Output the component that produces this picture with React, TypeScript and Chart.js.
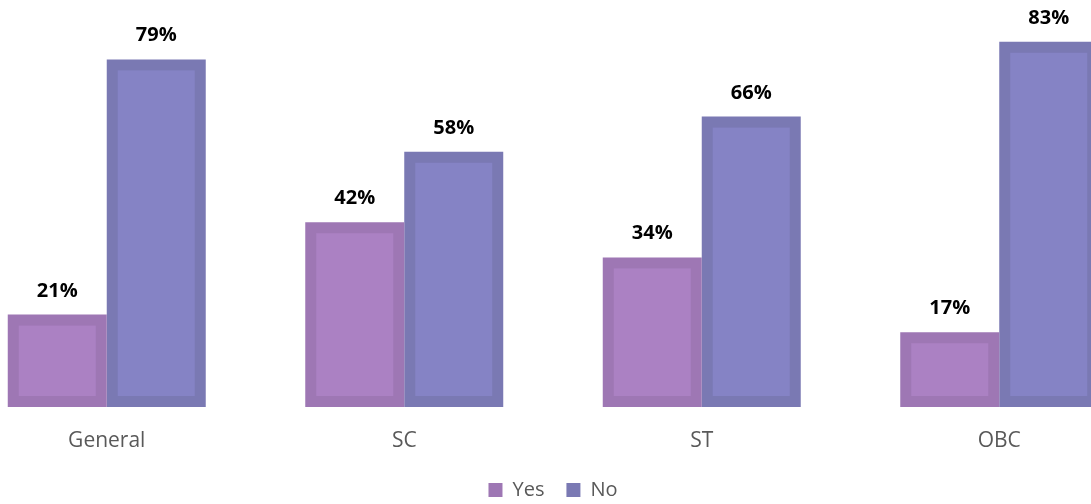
import React, { useEffect, useRef } from "react";
import { Chart, registerables } from "chart.js";

Chart.register(...registerables);

const categories = ["General", "SC", "ST", "OBC"];
const yesValues = [21, 42, 34, 17];
const noValues = [79, 58, 66, 83];
const seriesNames = ["Yes", "No"];
const frameColors = ["#9E77B4", "#7A79B3"];
const fillColors = ["#AB81C3", "#8583C5"];
const FRAME = 11;

const innerFillPlugin = {
  id: "innerFill",
  afterDatasetsDraw(chart: any) {
    const ctx = chart.ctx;
    ctx.save();
    chart.data.datasets.forEach((ds: any, di: number) => {
      const meta = chart.getDatasetMeta(di);
      ctx.fillStyle = fillColors[di];
      meta.data.forEach((bar: any) => {
        const { x, y, base, width } = bar.getProps(["x", "y", "base", "width"], true);
        const left = x - width / 2 + FRAME;
        const w = width - 2 * FRAME;
        const top = Math.min(y, base) + FRAME;
        const h = Math.abs(base - y) - 2 * FRAME;
        if (w > 0 && h > 0) ctx.fillRect(left, top, w, h);
      });
    });
    ctx.restore();
  },
};

const labelPlugin = {
  id: "valueLabels",
  afterDatasetsDraw(chart: any) {
    const ctx = chart.ctx;
    ctx.save();
    ctx.font = "bold 20px 'Open Sans'";
    ctx.fillStyle = "#000000";
    ctx.textAlign = "center";
    ctx.textBaseline = "alphabetic";
    chart.data.datasets.forEach((ds: any, di: number) => {
      const meta = chart.getDatasetMeta(di);
      meta.data.forEach((bar: any, i: number) => {
        ctx.fillText(ds.data[i] + "%", bar.x, bar.y - 18);
      });
    });
    ctx.restore();
  },
};

export default function App() {
  const ref = useRef<HTMLCanvasElement | null>(null);
  useEffect(() => {
    if (!ref.current) return;
    const chart = new Chart(ref.current, {
      type: "bar",
      data: {
        labels: categories,
        datasets: [
          {
            label: seriesNames[0],
            data: yesValues,
            backgroundColor: frameColors[0],
            borderWidth: 0,
            categoryPercentage: 0.6655,
            barPercentage: 1,
          },
          {
            label: seriesNames[1],
            data: noValues,
            backgroundColor: frameColors[1],
            borderWidth: 0,
            categoryPercentage: 0.6655,
            barPercentage: 1,
          },
        ],
      },
      options: {
        animation: false,
        responsive: false,
        maintainAspectRatio: false,
        layout: { padding: { top: 11, left: 0, right: 0, bottom: -6 } },
        scales: {
          x: {
            grid: { display: false },
            border: { display: false },
            ticks: { color: "#595959", font: { family: "'Open Sans'", size: 21 }, padding: 13 },
            afterFit: (axis: any) => {
              axis.height = 51;
            },
          },
          y: { display: false, min: 0, max: 90 },
        },
        plugins: {
          legend: {
            position: "bottom",
            labels: {
              color: "#595959",
              font: { family: "'Open Sans'", size: 20 },
              boxWidth: 14,
              boxHeight: 14,
              padding: 22,
              generateLabels: (c: any) =>
                c.data.datasets.map((ds: any, i: number) => ({
                  text: ds.label,
                  fillStyle: frameColors[i],
                  strokeStyle: frameColors[i],
                  lineWidth: 0,
                  datasetIndex: i,
                  fontColor: "#595959",
                })),
            },
          },
          tooltip: { enabled: false },
        },
      },
      plugins: [innerFillPlugin, labelPlugin],
    });
    return () => chart.destroy();
  }, []);
  return (
    <div style={{ position: "fixed", left: 0, top: 0, width: 1091, height: 504, overflow: "hidden", background: "#fff" }}>
      <canvas ref={ref} width={1190} height={504} style={{ position: "absolute", left: -42, top: 0, width: 1190, height: 504 }} />
    </div>
  );
}
